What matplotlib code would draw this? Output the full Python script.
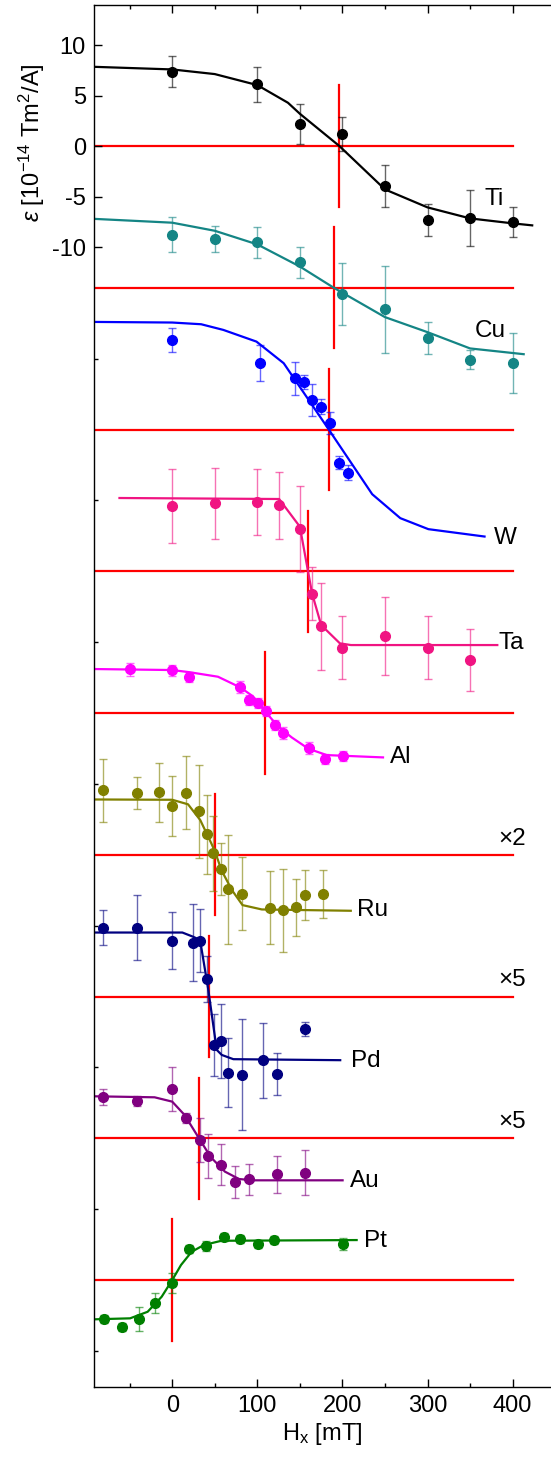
import numpy as np
import matplotlib
matplotlib.use('agg')
import matplotlib.pyplot as plt

plt.rcParams['font.family'] = ['Liberation Sans', 'DejaVu Sans']
plt.rcParams['mathtext.fontset'] = 'custom'
plt.rcParams['mathtext.rm'] = 'Liberation Sans'
plt.rcParams['mathtext.it'] = 'Liberation Sans:italic'

## Data (values relative to each material's own zero line, 10^-14 Tm^2/A)
materials = ['Ti', 'Cu', 'W', 'Ta', 'Al', 'Ru', 'Pd', 'Au', 'Pt']
colors = ['#000000', '#148585', '#0000ff', '#f01482', '#ff00ff',
          '#808000', '#000080', '#800080', '#008000']
step = 14.035  # vertical offset between materials

ti_h = [0, 100, 150, 200, 250, 300, 350, 400]
ti_v = [7.36, 6.1, 2.2, 1.22, -3.96, -7.33, -7.1, -7.52]
ti_e = [1.53, 1.7, 2.0, 1.7, 2.1, 1.55, 2.8, 1.5]
ti_fit_h = [-92, 0, 50, 100, 136, 150, 196.5, 250, 300, 350, 400, 423]
ti_fit_v = [7.85, 7.59, 7.13, 6.04, 4.29, 3.2, 0, -4.29, -6.07, -7.16, -7.65, -7.85]

cu_h = [0, 50, 100, 150, 200, 250, 300, 350, 400]
cu_v = [5.28, 4.85, 4.49, 2.54, -0.63, -2.11, -5.0, -7.13, -7.46]
cu_e = [1.78, 1.32, 1.52, 1.52, 3.05, 4.3, 1.6, 0.95, 3.0]
cu_fit_h = [-92, 0, 50, 100, 150, 190, 250, 300, 350, 413]
cu_fit_v = [6.83, 6.45, 5.65, 4.3, 2.11, 0, -2.9, -4.39, -6.0, -6.57]

w_h = [0, 103.2, 144.7, 154.9, 164.8, 175.3, 185.9, 195.9, 206.2]
w_v = [8.88, 6.57, 5.09, 4.75, 2.94, 2.28, 0.63, -3.27, -4.26]
w_e = [1.15, 1.8, 1.63, 0.7, 1.58, 0.7, 1.07, 0.63, 0.78]
w_fit_h = [-92, 0, 34, 60, 99, 131, 184, 235, 268, 301, 367]
w_fit_v = [10.66, 10.6, 10.43, 9.87, 8.71, 6.57, 0, -6.4, -8.77, -9.86, -10.59]

ta_h = [0, 50, 100, 125.6, 150, 164.3, 175, 200, 250, 300, 350]
ta_v = [6.5, 6.73, 6.83, 6.53, 4.22, -2.22, -5.45, -7.56, -6.41, -7.56, -8.78]
ta_e = [3.68, 3.55, 3.28, 3.33, 4.27, 2.6, 4.34, 3.14, 3.85, 3.14, 3.07]
ta_fit_h = [-62, 125.6, 150, 164.3, 175, 197, 210, 382]
ta_fit_v = [7.26, 7.16, 4.42, -2.18, -5.32, -7.13, -7.3, -7.3]

al_h = [-49.5, 0, 20.2, 80.1, 90, 100.3, 110, 120.6, 130.5, 160.2, 180, 200.2]
al_v = [4.32, 4.22, 3.6, 2.57, 1.29, 0.96, 0.23, -1.16, -1.95, -3.44, -4.52, -4.23]
al_e = [0.63, 0.53, 0.5, 0.6, 0.5, 0.5, 0.5, 0.5, 0.6, 0.6, 0.5, 0.5]
al_fit_h = [-92, 0, 20, 53.7, 80, 95, 109.5, 124, 140.4, 160, 181.6, 247.7]
al_fit_v = [4.36, 4.26, 4.05, 3.6, 2.54, 1.65, 0.13, -1.29, -2.41, -3.53, -4.16, -4.39]

ru_h = [-81.7, -40.9, -16, 0, 16.2, 31.9, 41.3, 48.3, 57, 65.2, 82.4, 115, 130, 145.8, 156.5, 177.1]
ru_v = [6.38, 6.11, 6.18, 4.85, 6.14, 4.33, 2.02, 0.14, -1.41, -3.4, -3.86, -5.25, -5.5, -5.2, -3.96, -3.89]
ru_e = [3.15, 1.6, 2.9, 3.0, 3.6, 4.6, 3.9, 3.7, 2.6, 5.4, 3.6, 3.6, 4.1, 2.8, 2.5, 2.35]
ru_fit_h = [-92, 0, 18.6, 33, 45.4, 50.4, 57.8, 70.2, 82.6, 105.3, 209.8]
ru_fit_v = [5.48, 5.45, 5.0, 3.43, 1.23, 0.3, -1.52, -3.5, -4.98, -5.41, -5.54]

pd_h = [-81.7, -40.9, 0, 24, 32.7, 41.3, 49.5, 57.3, 65.3, 82.2, 106.5, 122.6, 156.5]
pd_v = [6.83, 6.83, 5.54, 5.34, 5.54, 1.72, -4.81, -4.39, -7.52, -7.75, -6.3, -7.65, -3.2]
pd_e = [1.72, 3.2, 2.85, 3.8, 3.1, 2.3, 3.07, 3.7, 3.45, 5.5, 3.7, 2.1, 0.7]
pd_fit_h = [-92, 11.9, 24, 32.7, 42.4, 52.3, 58.2, 71.8, 197.4]
pd_fit_v = [6.34, 6.34, 5.94, 5.61, 0.66, -5.28, -5.78, -6.2, -6.3]

au_h = [-81.7, -40.9, 0, 16.5, 32.2, 41.7, 57.4, 74.3, 90, 122.6, 156.5]
au_v = [4.06, 3.69, 4.85, 1.98, -0.17, -1.75, -2.61, -4.3, -4.06, -3.56, -3.4]
au_e = [0.8, 0.5, 2.17, 0.5, 2.15, 2.2, 2.0, 1.6, 1.53, 1.85, 2.24]
au_fit_h = [-92, -20.7, 0, 14.5, 32.2, 45.4, 61.9, 78.5, 95, 200.2]
au_fit_v = [4.16, 4.06, 3.63, 2.31, -0.1, -1.88, -3.3, -4.03, -4.16, -4.16]

pt_h = [-79.6, -59.4, -39.1, -19.8, 0, 20.2, 40.1, 60.3, 80.1, 100.3, 120.1, 200.2]
pt_v = [-3.86, -4.69, -3.89, -2.24, -0.33, 3.07, 3.37, 4.29, 4.06, 3.6, 3.93, 3.53]
pt_e = [0.4, 0.4, 1.2, 1.0, 1.0, 0.4, 0.5, 0.4, 0.4, 0.4, 0.4, 0.6]
pt_fit_h = [-92, -49.5, -28.9, -12.4, 0, 10.3, 22.8, 37.2, 57.8, 216.7]
pt_fit_v = [-3.89, -3.79, -3.14, -1.65, 0, 1.49, 2.8, 3.47, 3.89, 3.96]

# field where each curve crosses zero
h_cross = [196.5, 190, 184, 159.4, 109.5, 50.8, 43.4, 31.7, 0]

# label positions (field, value relative to zero line)
label_h = [378, 374, 392, 398, 268, 235, 227, 226, 239]
label_v = [-5.28, -4.25, -10.7, -7.1, -4.35, -5.45, -6.4, -4.25, 3.9]
scale_labels = {'Ru': '×2', 'Pd': '×5', 'Au': '×5'}
scale_v = 1.6

data = [
    (ti_h, ti_v, ti_e, ti_fit_h, ti_fit_v),
    (cu_h, cu_v, cu_e, cu_fit_h, cu_fit_v),
    (w_h, w_v, w_e, w_fit_h, w_fit_v),
    (ta_h, ta_v, ta_e, ta_fit_h, ta_fit_v),
    (al_h, al_v, al_e, al_fit_h, al_fit_v),
    (ru_h, ru_v, ru_e, ru_fit_h, ru_fit_v),
    (pd_h, pd_v, pd_e, pd_fit_h, pd_fit_v),
    (au_h, au_v, au_e, au_fit_h, au_fit_v),
    (pt_h, pt_v, pt_e, pt_fit_h, pt_fit_v),
]

## Plot
fig = plt.figure(figsize=(5.51, 14.58), dpi=100)
ax = fig.add_axes([94.2/551, 1 - 1386.7/1458, 1 - 94.2/551, 1382.0/1458])

for i, (name, c) in enumerate(zip(materials, colors)):
    base = -i * step
    h, v, e, fh, fv = data[i]
    # zero line and crossing marker
    ax.plot([-92, 400.5], [base, base], color='#ff0000', lw=1.6, zorder=1)
    ax.plot([h_cross[i], h_cross[i]], [base - 6, base + 6], color='#ff0000', lw=1.6, zorder=1)
    ax.plot(fh, np.array(fv) + base, color=c, lw=1.6, zorder=2)
    ax.errorbar(h, np.array(v) + base, yerr=e, fmt='none', ecolor=c, alpha=0.6,
                elinewidth=1, capsize=3, capthick=1, zorder=3)
    ax.plot(h, np.array(v) + base, 'o', color=c, ms=7, mec=c, zorder=4)
    ax.text(label_h[i], label_v[i] + base, name, fontsize=17.5, ha='center', va='center')
    if name in scale_labels:
        ax.text(400, base + scale_v, scale_labels[name], fontsize=17.5, ha='center', va='center')

ax.set_xlim(-91.7, 445.1)
ax.set_ylim(-122.84, 14.0)

ax.set_xticks([0, 100, 200, 300, 400])
ax.set_xticks([-50, 50, 150, 250, 350], minor=True)
ax.set_yticks([10, 5, 0, -5, -10])
ax.set_yticklabels(['10', '5', '0', '-5', '-10'])
ax.set_yticks([-(k + 0.5) * step for k in range(1, 9)], minor=True)

ax.tick_params(which='both', direction='in', top=True, right=False, labelsize=17, width=1)
ax.tick_params(which='major', length=6, pad=6)
ax.tick_params(which='minor', length=3)
ax.spines['right'].set_visible(False)
for s in ['left', 'top', 'bottom']:
    ax.spines[s].set_linewidth(1)

ax.set_xlabel(r'H$_\mathregular{x}$ [mT]', fontsize=17, labelpad=3)
fig.text(32/551, 1 - 142.5/1458, r'$\varepsilon$ [10$^\mathregular{-14}$ Tm$^\mathregular{2}$/A]',
         fontsize=17, rotation=90, ha='center', va='center')

plt.savefig('out.png', dpi=100)
